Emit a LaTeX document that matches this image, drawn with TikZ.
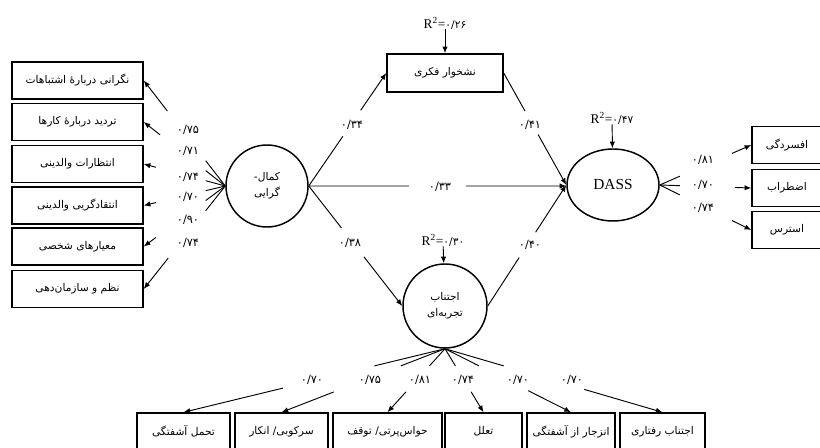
\documentclass[tikz,border=0pt]{standalone}
\usepackage{fontspec}
\setmainfont{Liberation Serif}
\newfontfamily\fa[Script=Arabic]{DejaVu Sans}
\usetikzlibrary{arrows.meta,calc,shapes.geometric}
\TeXXeTstate=1
\newcommand\gapcon[4]{\draw[con] (#1) -- ($(#1)!#3!(#2)$); \draw[con,->] ($(#1)!#4!(#2)$) -- (#2);}
\begin{document}
\begin{tikzpicture}[x=0.75pt,y=-0.75pt,
  >={Latex[length=5pt,width=4pt]},
  abox/.style={draw, line width=1.1pt, minimum width=#1, minimum height=27.75pt, inner sep=0pt, font=\fa\fontsize{8}{9}\selectfont},
  lat/.style={draw, circle, line width=1.1pt, minimum size=61.5pt, inner sep=0pt, font=\fa\fontsize{8}{12}\selectfont, align=center},
  num/.style={font=\fa\fontsize{8.5}{9}\selectfont, inner sep=0pt},
  rsq/.style={font=\fontsize{10}{11}\selectfont, inner sep=0pt},
  con/.style={line width=0.7pt}]
\useasboundingbox (0,0) rectangle (820,448);
\clip (0,0) rectangle (820,448);
% latent variables
\node[lat] (kam) at (267,186) {-\beginR کمال\endR\\\beginR گرایی\endR};
\node[lat, minimum size=63pt] (avo) at (445,306) {\beginR اجتناب\endR\\\beginR تجربه‌ای\endR};
\node[draw, ellipse, line width=1.1pt, minimum width=69pt, minimum height=54pt, inner sep=0pt, font=\fontsize{11.5}{12}\selectfont] (dass) at (613,185) {DASS};
% mediator box
\node[abox=87pt, minimum height=28.5pt] (rum) at (445,73) {\beginR نشخوار فکری\endR};
% left indicators
\node[abox=98.25pt] (l1) at (77.5,80.5) {\beginR نگرانی دربارهٔ اشتباهات\endR};
\node[abox=98.25pt] (l2) at (77.5,122) {\beginR تردید دربارهٔ  کارها\endR};
\node[abox=98.25pt] (l3) at (77.5,164) {\beginR انتظارات والدینی\endR};
\node[abox=98.25pt] (l4) at (77.5,205.5) {\beginR انتقادگریی والدینی\endR};
\node[abox=98.25pt] (l5) at (77.5,246.5) {\beginR معیارهای شخصی\endR};
\node[abox=98.25pt] (l6) at (77.5,289) {\beginR نظم و سازمان‌دهی\endR};
% right indicators
\node[abox=52.5pt] (r1) at (787,145) {\beginR افسردگی\endR};
\node[abox=52.5pt] (r2) at (787,188) {\beginR اضطراب\endR};
\node[abox=52.5pt] (r3) at (787,230) {\beginR استرس\endR};
% bottom indicators
\node[abox=69.75pt] (b1) at (183.5,431.5) {\beginR تحمل آشفتگی\endR};
\node[abox=69.75pt] (b2) at (281.5,431.5) {\beginR سرکوبی/ انکار\endR};
\node[abox=81.75pt] (b3) at (387.5,431.5) {\beginR حواس‌پرتی/ توقف\endR};
\node[abox=57.75pt] (b4) at (483.5,431.5) {\beginR تعلل\endR};
\node[abox=66pt] (b5) at (571,431.5) {\beginR انزجار از آشفتگی\endR};
\node[abox=63.75pt] (b6) at (662.5,431.5) {\beginR اجتناب رفتاری\endR};
% R squared
\node[rsq] (q1) at (445,23) {R\textsuperscript{2}={\fa\fontsize{8}{9}\selectfont ۰/۲۶}};
\node[rsq] (q2) at (612,118) {R\textsuperscript{2}={\fa\fontsize{8}{9}\selectfont ۰/۴۷}};
\node[rsq] (q3) at (443,240) {R\textsuperscript{2}={\fa\fontsize{8}{9}\selectfont ۰/۳۰}};
\draw[con,->] (q1) -- (rum);
\draw[con,->] (q2) -- (dass);
\draw[con,->] (q3) -- (avo);
% structural paths
\gapcon{kam.east}{rum.west}{0.44}{0.67}
\gapcon{rum.east}{dass.west}{0.34}{0.55}
\draw[con] (kam.east) -- ($(kam.east)!0.39!(kam.east -| dass.west)$);
\draw[con,->] ($(kam.east)!0.61!(kam.east -| dass.west)$) -- (kam.east -| dass.west);
\gapcon{kam.east}{avo.west}{0.35}{0.59}
\gapcon{avo.east}{dass.west}{0.40}{0.61}
\node[num] (p1) at (352,125) {۰/۳۴};
\node[num] (p2) at (530,125) {۰/۴۱};
\node[num] (p3) at (440,187) {۰/۳۳};
\node[num] (p4) at (350,243) {۰/۳۸};
\node[num] (p5) at (530,245) {۰/۴۰};
% left loadings
\gapcon{kam.west}{l1.east}{0.24}{0.71}
\gapcon{kam.west}{l2.east}{0.24}{0.80}
\gapcon{kam.west}{l3.east}{0.24}{0.85}
\gapcon{kam.west}{l4.east}{0.24}{0.85}
\gapcon{kam.west}{l5.east}{0.24}{0.85}
\gapcon{kam.west}{l6.east}{0.24}{0.70}
\node[num] (a1) at (188,130) {۰/۷۵};
\node[num] (a2) at (188,151) {۰/۷۱};
\node[num] (a3) at (188,177) {۰/۷۴};
\node[num] (a4) at (188,197) {۰/۷۰};
\node[num] (a5) at (188,220) {۰/۹۰};
\node[num] (a6) at (188,243) {۰/۷۴};
% right loadings
\gapcon{dass.east}{r1.west}{0.22}{0.79}
\gapcon{dass.east}{r2.west}{0.22}{0.82}
\gapcon{dass.east}{r3.west}{0.22}{0.79}
\node[num] (c1) at (703,160) {۰/۸۱};
\node[num] (c2) at (703,185) {۰/۷۰};
\node[num] (c3) at (703,208) {۰/۷۴};
% bottom loadings
\gapcon{avo.south}{b1.north}{0.27}{0.62}
\gapcon{avo.south}{b2.north}{0.27}{0.68}
\gapcon{avo.south}{b3.north}{0.27}{0.68}
\gapcon{avo.south}{b4.north}{0.27}{0.68}
\gapcon{avo.south}{b5.north}{0.27}{0.66}
\gapcon{avo.south}{b6.north}{0.27}{0.64}
\node[num] (d1) at (312,380) {۰/۷۰};
\node[num] (d2) at (370,380) {۰/۷۵};
\node[num] (d3) at (420,380) {۰/۸۱};
\node[num] (d4) at (463,380) {۰/۷۴};
\node[num] (d5) at (518,380) {۰/۷۰};
\node[num] (d6) at (572,380) {۰/۷۰};
\end{tikzpicture}
\end{document}
